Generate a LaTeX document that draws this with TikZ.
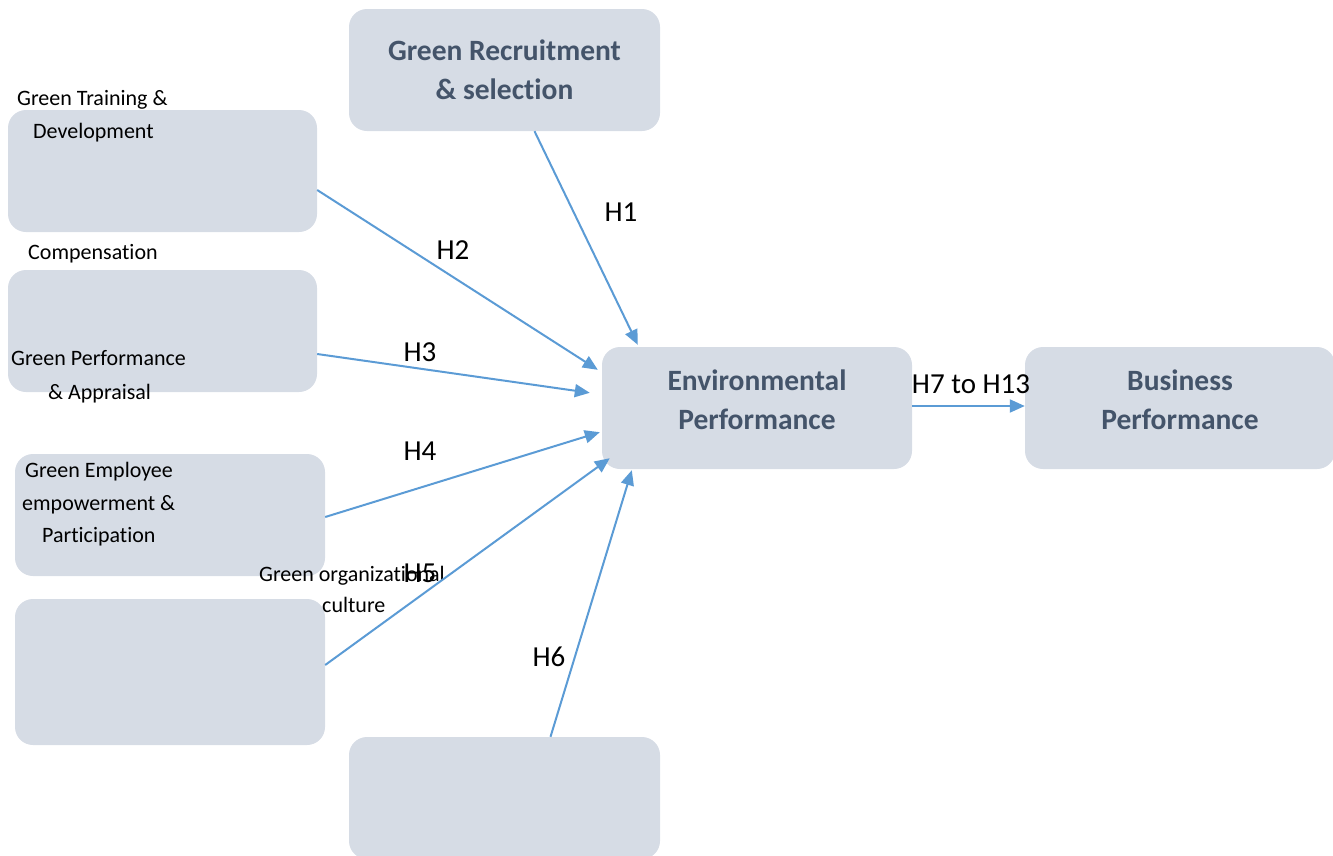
\documentclass[tikz,border=0pt]{standalone}
\usepackage{fontspec}
\setmainfont{Carlito}[Ligatures={NoCommon}]
\usetikzlibrary{arrows.meta}
\definecolor{boxfill}{HTML}{D6DCE5}
\definecolor{titletxt}{HTML}{44546A}
\definecolor{arrowc}{HTML}{5B9BD5}
\tikzset{
  box/.style={rectangle, rounded corners=18pt, fill=boxfill, draw=none, inner sep=0pt},
  title/.style={text=titletxt, font=\fontsize{29.5}{39}\selectfont\bfseries, align=center, inner sep=0pt},
  small/.style={text=black, font=\fontsize{22}{26}\selectfont, inner sep=0pt},
  hlab/.style={text=black, font=\fontsize{29}{32}\selectfont, inner sep=0pt},
  link/.style={draw=arrowc, line width=2pt, -{Triangle[length=15pt,width=13pt]}}
}
\begin{document}
\begin{tikzpicture}[x=1pt,y=-1pt]
\useasboundingbox (0,0) rectangle (1333,855);
\clip (0,0) rectangle (1333,855);
% boxes
\node[box, minimum width=311pt, minimum height=122pt] (rec) at (504.5,70) {};
\node[box, minimum width=309pt, minimum height=122pt] (trn) at (162.5,171) {};
\node[box, minimum width=309pt, minimum height=122pt] (cmp) at (162.5,331) {};
\node[box, minimum width=310pt, minimum height=122pt] (emp) at (170,515) {};
\node[box, minimum width=310pt, minimum height=146pt] (cul) at (170,672) {};
\node[box, minimum width=311pt, minimum height=122pt] (bot) at (504.5,798) {};
\node[box, minimum width=310pt, minimum height=122pt] (env) at (757,408) {};
\node[box, minimum width=310pt, minimum height=122pt] (bus) at (1180,408) {};
% titles
\node[title] (rect) at (504.5,70) {Green Recruitment\\\& selection};
\node[title] (envt) at (757,400) {Environmental\\Performance};
\node[title] (bust) at (1180,400) {Business\\Performance};
% small labels
\node[small, anchor=mid west] (t1) at (17,103) {Green Training \&};
\node[small, anchor=mid west] (t2) at (33,136) {Development};
\node[small, anchor=mid west] (c1) at (28,257) {Compensation};
\node[small, anchor=mid west] (p1) at (11,363) {Green Performance};
\node[small, anchor=mid west] (p2) at (48,397) {\& Appraisal};
\node[small, anchor=mid west] (e1) at (25,475) {Green Employee};
\node[small, anchor=mid west] (e2) at (22,508) {empowerment \&};
\node[small, anchor=mid west] (e3) at (42,540) {Participation};
\node[small, anchor=mid west] (o1) at (259,579) {Green organizational};
\node[small, anchor=mid west] (o2) at (322,610) {culture};
% connectors
\draw[link] ([xshift=30pt]rec.south) -- ([xshift=36pt,yshift=2pt]env.north west);
\draw[link] ([yshift=-19pt]trn.east) -- ([xshift=-4pt,yshift=-23pt]env.north west);
\draw[link] ([yshift=-23pt]cmp.east) -- ([xshift=-12pt,yshift=-46pt]env.north west);
\draw[link] ([yshift=-2pt]emp.east) -- ([xshift=-2pt,yshift=37pt]env.south west);
\draw[link] ([yshift=7pt]cul.east) -- ([xshift=8pt,yshift=11pt]env.south west);
\draw[link] ([xshift=46pt]bot.north) -- ([xshift=30pt,yshift=-1pt]env.south west);
\draw[link] ([yshift=2pt]env.east) -- ([yshift=2pt]bus.west);
% hypothesis labels
\node[hlab] (h1) at (621,212) {H1};
\node[hlab] (h2) at (453,250) {H2};
\node[hlab] (h3) at (420,352) {H3};
\node[hlab] (h4) at (420,451) {H4};
\node[hlab] (h5) at (420,573) {H5};
\node[hlab] (h6) at (549,657) {H6};
\node[hlab] (h7) at (971,384) {H7 to H13};
\end{tikzpicture}
\end{document}
